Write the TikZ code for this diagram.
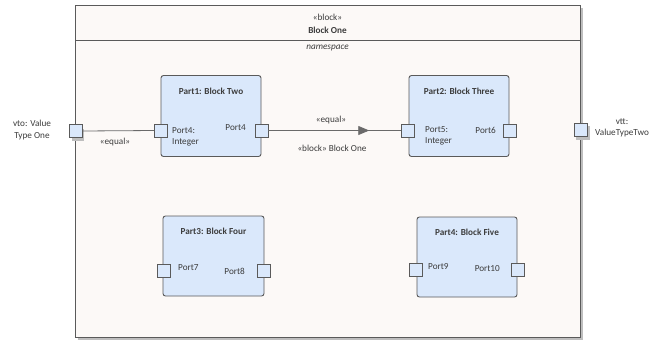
\documentclass[tikz,border=0pt]{standalone}
\usepackage{fontspec}
\setmainfont{Carlito}
\usetikzlibrary{decorations.markings,arrows.meta}
\definecolor{bordc}{HTML}{5A5A5A}
\definecolor{outfill}{HTML}{FCF9F7}
\definecolor{partfill}{HTML}{DAE8FB}
\definecolor{txtc}{HTML}{3C3C3C}
\definecolor{linec}{HTML}{6A6A6A}
\definecolor{shadc}{HTML}{BEBEBE}
\tikzset{
  x=1pt, y=-1pt,
  every node/.style={font=\fontsize{9.2}{11.5}\selectfont, text=txtc, inner sep=0pt},
  outerblk/.style={draw=bordc, line width=1pt, fill=outfill, minimum width=505pt, minimum height=332pt},
  partbox/.style={draw=bordc, line width=0.9pt, fill=partfill, rounded corners=2.5pt, minimum width=100pt, minimum height=81pt},
  portbox/.style={draw=bordc, line width=0.8pt, fill=partfill, minimum width=13pt, minimum height=13pt},
  extport/.style={portbox, line width=1pt},
  ttl/.style={font=\fontsize{9.2}{11.5}\selectfont\bfseries},
  conn/.style={draw=linec, line width=0.8pt},
}
\begin{document}
\begin{tikzpicture}
\useasboundingbox[fill=white] (0,0) rectangle (670,341);
% outer block with shadow
\fill[shadc] (78,8) rectangle (583,340);
\node[outerblk] (blk) at (327.5,171) {};
\draw[bordc, line width=0.8pt] (75,40) -- (580,40);
\node (st) at (327.5,17) {«block»};
\node[ttl] (bt) at (327.5,30) {Block One};
\node[font=\fontsize{9.2}{11.5}\selectfont\itshape] (ns) at (327.5,48) {namespace};
% parts
\node[partbox] (p1) at (211,116) {};
\node[partbox] (p2) at (459,116) {};
\node[partbox, minimum width=101pt, minimum height=80pt] (p3) at (213.5,256) {};
\node[partbox, minimum height=80pt] (p4) at (467,257) {};
\node[ttl] (t1) at (211,91) {Part1: Block Two};
\node[ttl] (t2) at (459,91) {Part2: Block Three};
\node[ttl] (t3) at (213.5,231) {Part3: Block Four};
\node[ttl] (t4) at (467,232) {Part4: Block Five};
% external ports
\fill[shadc] (72,129) rectangle (84,141);
\node[extport] (vto) at (75.5,131) {};
\fill[shadc] (576,126) rectangle (590,140);
\node[extport] (vtt) at (580.5,129.5) {};
% part ports
\node[portbox] (p1l) at (161,130.5) {};
\node[portbox] (p1r) at (261.5,130.5) {};
\node[portbox] (p2l) at (408,130.5) {};
\node[portbox] (p2r) at (510,130.5) {};
\node[portbox] (p3l) at (164,271) {};
\node[portbox] (p3r) at (264,271) {};
\node[portbox] (p4l) at (416,270) {};
\node[portbox] (p4r) at (517.5,270) {};
% connectors
\draw[conn] (vto.east) -- (p1l.west);
\draw[conn, postaction={decorate}, decoration={markings, mark=at position 0.76 with {\arrow{Triangle[length=11pt,width=9pt,fill=linec]}}}] (p1r.east) -- (p2l.west);
% labels
\node[align=center] (lvto) at (32,130) {vto: Value\\Type One};
\node[align=center] (lvtt) at (622,128) {vtt:\\ValueTypeTwo};
\node (eq1) at (115,142) {«equal»};
\node (eq2) at (331,120) {«equal»};
\node (bb) at (332,148) {«block» Block One};
\node[align=left, anchor=west] (l4a) at (172,137) {Port4:\\Integer};
\node[anchor=east] (l4b) at (246,128) {Port4};
\node[align=left, anchor=west] (l5) at (425,136) {Port5:\\Integer};
\node[anchor=east] (l6) at (496,130) {Port6};
\node[anchor=west] (l7) at (178,268) {Port7};
\node[anchor=east] (l8) at (245,271) {Port8};
\node[anchor=west] (l9) at (428,267) {Port9};
\node[anchor=east] (l10) at (500,269) {Port10};
\end{tikzpicture}
\end{document}
